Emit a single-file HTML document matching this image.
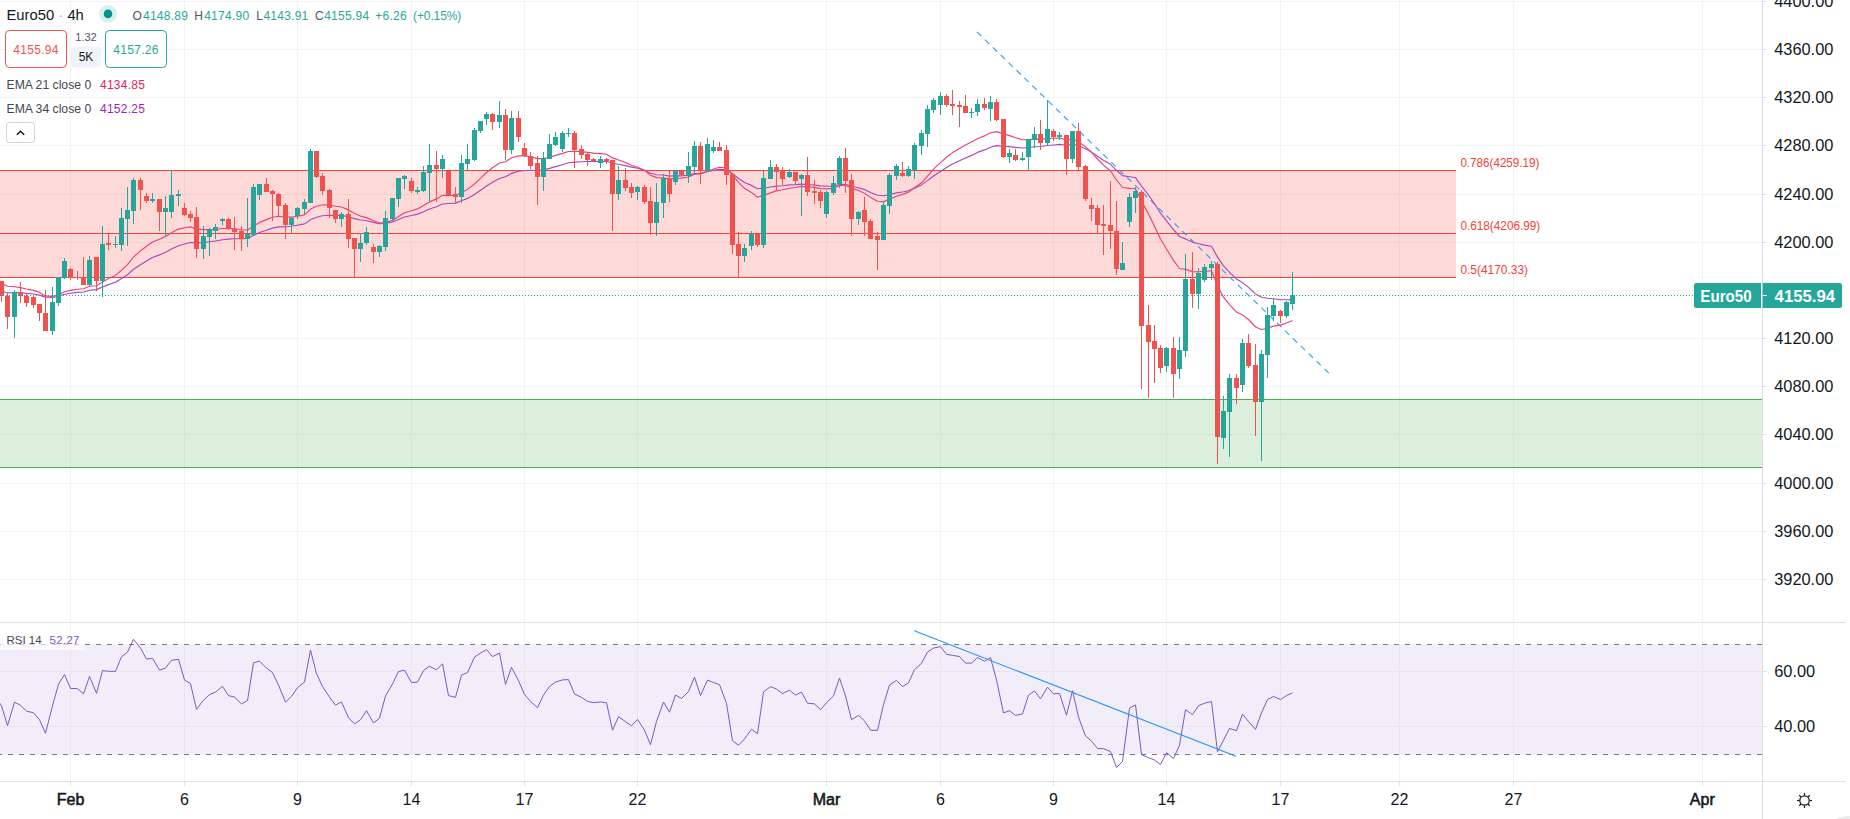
<!DOCTYPE html><html><head><meta charset="utf-8"><title>Euro50</title><style>html,body{margin:0;padding:0;background:#fff;overflow:hidden}</style></head><body><svg width="1850" height="819" viewBox="0 0 1850 819" style="display:block">
<rect width="1850" height="819" fill="#fff"/>
<g stroke="#f3f3f4" stroke-width="1" shape-rendering="crispEdges">
<line x1="70.5" y1="0" x2="70.5" y2="781"/>
<line x1="184.5" y1="0" x2="184.5" y2="781"/>
<line x1="297.5" y1="0" x2="297.5" y2="781"/>
<line x1="411.5" y1="0" x2="411.5" y2="781"/>
<line x1="524.5" y1="0" x2="524.5" y2="781"/>
<line x1="637.5" y1="0" x2="637.5" y2="781"/>
<line x1="826.5" y1="0" x2="826.5" y2="781"/>
<line x1="940.5" y1="0" x2="940.5" y2="781"/>
<line x1="1053.5" y1="0" x2="1053.5" y2="781"/>
<line x1="1166.5" y1="0" x2="1166.5" y2="781"/>
<line x1="1280.5" y1="0" x2="1280.5" y2="781"/>
<line x1="1399.5" y1="0" x2="1399.5" y2="781"/>
<line x1="1513.5" y1="0" x2="1513.5" y2="781"/>
<line x1="1702.5" y1="0" x2="1702.5" y2="781"/>
<line x1="0" y1="579.5" x2="1762.5" y2="579.5"/>
<line x1="0" y1="531.5" x2="1762.5" y2="531.5"/>
<line x1="0" y1="483.5" x2="1762.5" y2="483.5"/>
<line x1="0" y1="434.5" x2="1762.5" y2="434.5"/>
<line x1="0" y1="386.5" x2="1762.5" y2="386.5"/>
<line x1="0" y1="338.5" x2="1762.5" y2="338.5"/>
<line x1="0" y1="290.5" x2="1762.5" y2="290.5"/>
<line x1="0" y1="242.5" x2="1762.5" y2="242.5"/>
<line x1="0" y1="194.5" x2="1762.5" y2="194.5"/>
<line x1="0" y1="145.5" x2="1762.5" y2="145.5"/>
<line x1="0" y1="97.5" x2="1762.5" y2="97.5"/>
<line x1="0" y1="49.5" x2="1762.5" y2="49.5"/>
<line x1="0" y1="1.5" x2="1762.5" y2="1.5"/>
<line x1="0" y1="726.5" x2="1762.5" y2="726.5"/>
<line x1="0" y1="671.5" x2="1762.5" y2="671.5"/>
</g>
<rect x="0" y="170.5" width="1456" height="107.0" fill="#f44336" fill-opacity="0.2"/>
<g stroke="#f44336" stroke-width="1" shape-rendering="crispEdges">
<line x1="0" y1="170.5" x2="1456" y2="170.5"/>
<line x1="0" y1="233.5" x2="1456" y2="233.5"/>
<line x1="0" y1="277.5" x2="1456" y2="277.5"/>
</g>
<rect x="0" y="399.5" width="1762.5" height="68.0" fill="#4caf50" fill-opacity="0.2"/>
<g stroke="#4caf50" stroke-width="1" shape-rendering="crispEdges"><line x1="0" y1="399.5" x2="1762.5" y2="399.5"/><line x1="0" y1="467.5" x2="1762.5" y2="467.5"/></g>
<rect x="0" y="644.5" width="1762.5" height="110.0" fill="#7e57c2" fill-opacity="0.1"/>
<g stroke="#787b86" stroke-width="1" stroke-dasharray="5 6" stroke-dashoffset="3" shape-rendering="crispEdges"><line x1="0" y1="644.5" x2="1762.5" y2="644.5"/><line x1="0" y1="754.5" x2="1762.5" y2="754.5"/></g>
<line x1="977" y1="32" x2="1329.2" y2="373.5" stroke="#2196f3" stroke-width="1.15" stroke-opacity="0.9" stroke-dasharray="6 5"/>
<polyline points="-4.5,289.7 1.5,291.2 7.5,292.7 14.5,292.6 20.5,292.8 26.5,293.4 33.5,294.0 39.5,295.1 45.5,297.1 52.5,297.4 58.5,296.3 64.5,294.2 70.5,293.3 77.5,292.4 83.5,292.0 89.5,290.2 96.5,289.6 102.5,287.0 108.5,284.6 115.5,282.3 121.5,278.6 127.5,274.7 133.5,269.3 140.5,264.7 146.5,261.1 152.5,257.5 159.5,254.9 165.5,252.2 171.5,249.0 178.5,245.8 184.5,244.0 190.5,242.5 196.5,242.9 203.5,242.5 209.5,241.8 215.5,241.0 222.5,239.7 228.5,239.1 234.5,238.7 241.5,238.7 247.5,238.4 253.5,235.5 259.5,232.5 266.5,230.2 272.5,228.1 278.5,226.9 285.5,226.7 291.5,226.2 297.5,225.2 304.5,223.9 310.5,219.7 316.5,217.2 322.5,215.7 329.5,215.3 335.5,215.5 341.5,215.4 348.5,216.7 354.5,218.6 360.5,220.0 366.5,220.7 373.5,222.4 379.5,223.8 385.5,223.5 392.5,222.0 398.5,219.5 404.5,217.0 411.5,215.5 417.5,214.1 423.5,211.7 429.5,209.0 436.5,206.7 442.5,204.0 448.5,203.5 455.5,203.1 461.5,200.8 467.5,198.4 474.5,194.5 480.5,190.3 486.5,186.0 492.5,182.3 499.5,178.5 505.5,176.8 511.5,173.4 518.5,171.3 524.5,170.5 530.5,170.2 537.5,170.6 543.5,169.9 549.5,168.4 555.5,166.6 562.5,164.7 568.5,162.8 574.5,162.1 581.5,161.7 587.5,161.5 593.5,161.5 600.5,161.4 606.5,161.3 612.5,163.2 618.5,164.2 625.5,165.6 631.5,167.1 637.5,168.2 644.5,170.2 650.5,173.2 656.5,174.8 663.5,175.0 669.5,176.1 675.5,175.8 681.5,175.8 688.5,175.2 694.5,173.6 700.5,173.4 707.5,171.7 713.5,170.3 719.5,169.2 726.5,169.5 732.5,173.8 738.5,178.5 744.5,182.5 751.5,185.4 757.5,188.8 763.5,188.2 770.5,187.0 776.5,186.1 782.5,185.7 789.5,184.9 795.5,184.6 801.5,184.1 807.5,184.5 814.5,185.0 820.5,185.9 826.5,186.2 833.5,186.1 839.5,184.5 845.5,184.3 851.5,186.2 858.5,187.7 864.5,189.6 870.5,192.5 877.5,195.2 883.5,195.7 889.5,194.5 896.5,192.9 902.5,192.0 908.5,190.7 914.5,188.1 921.5,184.9 927.5,180.6 933.5,176.0 940.5,171.4 946.5,167.6 952.5,164.0 959.5,160.8 965.5,158.0 971.5,155.4 977.5,152.4 984.5,149.9 990.5,147.2 996.5,145.6 1003.5,146.2 1009.5,146.6 1015.5,147.4 1022.5,148.0 1028.5,147.5 1034.5,146.7 1040.5,146.5 1047.5,145.5 1053.5,145.0 1059.5,144.4 1066.5,145.2 1072.5,144.4 1078.5,145.7 1085.5,148.7 1091.5,152.1 1097.5,156.3 1103.5,160.3 1110.5,164.3 1116.5,170.3 1122.5,175.6 1129.5,176.8 1135.5,177.7 1141.5,186.1 1148.5,195.0 1154.5,203.8 1160.5,213.2 1166.5,220.9 1173.5,229.6 1179.5,236.5 1185.5,238.9 1192.5,242.1 1198.5,243.8 1204.5,245.1 1211.5,246.2 1217.5,257.1 1223.5,265.9 1229.5,272.4 1236.5,278.9 1242.5,282.6 1248.5,287.4 1255.5,293.9 1261.5,297.3 1267.5,298.3 1273.5,298.7 1280.5,299.7 1286.5,299.8 1292.5,299.6" fill="none" stroke="#ab47bc" stroke-width="1.15" stroke-linejoin="round"/>
<polyline points="-4.5,280.1 1.5,283.2 7.5,286.3 14.5,286.8 20.5,287.6 26.5,289.0 33.5,290.4 39.5,292.4 45.5,295.9 52.5,296.5 58.5,294.7 64.5,291.7 70.5,290.4 77.5,289.2 83.5,288.8 89.5,286.2 96.5,285.7 102.5,282.0 108.5,278.6 115.5,275.4 121.5,270.2 127.5,264.7 133.5,257.0 140.5,250.9 146.5,246.3 152.5,242.0 159.5,239.3 165.5,236.4 171.5,232.7 178.5,229.1 184.5,227.8 190.5,226.9 196.5,228.9 203.5,229.6 209.5,229.6 215.5,229.4 222.5,228.5 228.5,228.5 234.5,228.8 241.5,229.7 247.5,230.1 253.5,226.2 259.5,222.4 266.5,219.6 272.5,217.2 278.5,216.2 285.5,217.0 291.5,217.1 297.5,216.3 304.5,214.9 310.5,209.1 316.5,206.2 322.5,204.8 329.5,205.0 335.5,206.3 341.5,207.0 348.5,209.9 354.5,213.4 360.5,216.1 366.5,217.6 373.5,220.7 379.5,223.0 385.5,222.6 392.5,220.4 398.5,216.5 404.5,212.8 411.5,210.8 417.5,208.9 423.5,205.6 429.5,201.9 436.5,198.9 442.5,195.3 448.5,195.3 455.5,195.4 461.5,192.5 467.5,189.4 474.5,184.0 480.5,178.3 486.5,172.5 492.5,167.8 499.5,163.0 505.5,161.8 511.5,157.8 518.5,155.9 524.5,155.9 530.5,156.8 537.5,158.6 543.5,158.6 549.5,157.3 555.5,155.4 562.5,153.4 568.5,151.5 574.5,151.3 581.5,151.6 587.5,152.4 593.5,153.1 600.5,153.6 606.5,154.3 612.5,157.9 618.5,160.0 625.5,162.5 631.5,165.3 637.5,167.3 644.5,170.4 650.5,175.2 656.5,177.6 663.5,177.7 669.5,179.1 675.5,178.4 681.5,178.1 688.5,177.0 694.5,174.2 700.5,173.9 707.5,171.2 713.5,169.0 719.5,167.3 726.5,168.0 732.5,174.9 738.5,182.3 744.5,188.3 751.5,192.4 757.5,197.2 763.5,195.4 770.5,192.9 776.5,190.9 782.5,189.8 789.5,188.2 795.5,187.5 801.5,186.4 807.5,186.9 814.5,187.4 820.5,188.6 826.5,188.9 833.5,188.4 839.5,185.6 845.5,185.2 851.5,188.2 858.5,190.4 864.5,193.3 870.5,197.4 877.5,201.2 883.5,201.6 889.5,199.2 896.5,196.2 902.5,194.4 908.5,192.1 914.5,187.8 921.5,182.8 927.5,176.1 933.5,169.2 940.5,162.6 946.5,157.3 952.5,152.6 959.5,148.4 965.5,145.1 971.5,142.1 977.5,138.7 984.5,135.9 990.5,132.8 996.5,131.6 1003.5,133.9 1009.5,135.6 1015.5,137.8 1022.5,139.7 1028.5,139.6 1034.5,139.1 1040.5,139.4 1047.5,138.5 1053.5,138.3 1059.5,138.0 1066.5,139.9 1072.5,139.1 1078.5,141.6 1085.5,146.8 1091.5,152.4 1097.5,159.0 1103.5,165.1 1110.5,171.0 1116.5,180.0 1122.5,187.5 1129.5,188.4 1135.5,188.7 1141.5,201.1 1148.5,213.9 1154.5,226.2 1160.5,239.0 1166.5,249.0 1173.5,260.3 1179.5,268.5 1185.5,269.4 1192.5,271.6 1198.5,271.8 1204.5,271.3 1211.5,270.7 1217.5,285.8 1223.5,297.2 1229.5,304.6 1236.5,312.1 1242.5,314.9 1248.5,319.5 1255.5,327.0 1261.5,329.5 1267.5,328.2 1273.5,326.1 1280.5,325.1 1286.5,323.0 1292.5,320.5" fill="none" stroke="#ec407a" stroke-width="1.15" stroke-linejoin="round"/>
<g shape-rendering="crispEdges">
<rect x="1" y="281" width="1" height="21" fill="#ef5350"/>
<rect x="-1" y="281" width="5" height="15" fill="#ef5350"/>
<rect x="7" y="293" width="1" height="36" fill="#ef5350"/>
<rect x="5" y="296" width="5" height="21" fill="#ef5350"/>
<rect x="14" y="290" width="1" height="48" fill="#26a69a"/>
<rect x="12" y="292" width="5" height="25" fill="#26a69a"/>
<rect x="20" y="282" width="1" height="21" fill="#ef5350"/>
<rect x="18" y="292" width="5" height="4" fill="#ef5350"/>
<rect x="26" y="293" width="1" height="14" fill="#ef5350"/>
<rect x="24" y="296" width="5" height="7" fill="#ef5350"/>
<rect x="33" y="295" width="1" height="13" fill="#ef5350"/>
<rect x="31" y="297" width="5" height="8" fill="#ef5350"/>
<rect x="39" y="304" width="1" height="17" fill="#ef5350"/>
<rect x="37" y="304" width="5" height="9" fill="#ef5350"/>
<rect x="45" y="290" width="1" height="41" fill="#ef5350"/>
<rect x="43" y="313" width="5" height="18" fill="#ef5350"/>
<rect x="52" y="287" width="1" height="48" fill="#26a69a"/>
<rect x="50" y="302" width="5" height="29" fill="#26a69a"/>
<rect x="58" y="277" width="1" height="29" fill="#26a69a"/>
<rect x="56" y="277" width="5" height="26" fill="#26a69a"/>
<rect x="64" y="258" width="1" height="21" fill="#26a69a"/>
<rect x="62" y="261" width="5" height="17" fill="#26a69a"/>
<rect x="70" y="268" width="1" height="12" fill="#ef5350"/>
<rect x="68" y="269" width="5" height="9" fill="#ef5350"/>
<rect x="77" y="271" width="1" height="9" fill="#ef5350"/>
<rect x="75" y="277" width="5" height="1" fill="#ef5350"/>
<rect x="83" y="257" width="1" height="28" fill="#ef5350"/>
<rect x="81" y="277" width="5" height="8" fill="#ef5350"/>
<rect x="89" y="256" width="1" height="30" fill="#26a69a"/>
<rect x="87" y="260" width="5" height="25" fill="#26a69a"/>
<rect x="96" y="257" width="1" height="34" fill="#ef5350"/>
<rect x="94" y="257" width="5" height="24" fill="#ef5350"/>
<rect x="102" y="226" width="1" height="71" fill="#26a69a"/>
<rect x="100" y="244" width="5" height="37" fill="#26a69a"/>
<rect x="108" y="234" width="1" height="16" fill="#ef5350"/>
<rect x="106" y="243" width="5" height="2" fill="#ef5350"/>
<rect x="115" y="236" width="1" height="12" fill="#26a69a"/>
<rect x="113" y="244" width="5" height="1" fill="#26a69a"/>
<rect x="121" y="208" width="1" height="43" fill="#26a69a"/>
<rect x="119" y="218" width="5" height="27" fill="#26a69a"/>
<rect x="127" y="187" width="1" height="59" fill="#26a69a"/>
<rect x="125" y="210" width="5" height="9" fill="#26a69a"/>
<rect x="133" y="178" width="1" height="46" fill="#26a69a"/>
<rect x="131" y="180" width="5" height="31" fill="#26a69a"/>
<rect x="140" y="178" width="1" height="32" fill="#ef5350"/>
<rect x="138" y="180" width="5" height="10" fill="#ef5350"/>
<rect x="146" y="193" width="1" height="10" fill="#ef5350"/>
<rect x="144" y="196" width="5" height="5" fill="#ef5350"/>
<rect x="152" y="193" width="1" height="10" fill="#26a69a"/>
<rect x="150" y="199" width="5" height="2" fill="#26a69a"/>
<rect x="159" y="199" width="1" height="32" fill="#ef5350"/>
<rect x="157" y="199" width="5" height="13" fill="#ef5350"/>
<rect x="165" y="196" width="1" height="40" fill="#26a69a"/>
<rect x="163" y="208" width="5" height="4" fill="#26a69a"/>
<rect x="171" y="170" width="1" height="48" fill="#26a69a"/>
<rect x="169" y="195" width="5" height="17" fill="#26a69a"/>
<rect x="178" y="190" width="1" height="16" fill="#26a69a"/>
<rect x="176" y="194" width="5" height="2" fill="#26a69a"/>
<rect x="184" y="203" width="1" height="13" fill="#ef5350"/>
<rect x="182" y="208" width="5" height="7" fill="#ef5350"/>
<rect x="190" y="211" width="1" height="11" fill="#ef5350"/>
<rect x="188" y="214" width="5" height="4" fill="#ef5350"/>
<rect x="196" y="207" width="1" height="51" fill="#ef5350"/>
<rect x="194" y="217" width="5" height="32" fill="#ef5350"/>
<rect x="203" y="226" width="1" height="33" fill="#26a69a"/>
<rect x="201" y="236" width="5" height="13" fill="#26a69a"/>
<rect x="209" y="228" width="1" height="28" fill="#26a69a"/>
<rect x="207" y="230" width="5" height="7" fill="#26a69a"/>
<rect x="215" y="224" width="1" height="15" fill="#26a69a"/>
<rect x="213" y="227" width="5" height="4" fill="#26a69a"/>
<rect x="222" y="218" width="1" height="7" fill="#26a69a"/>
<rect x="220" y="219" width="5" height="2" fill="#26a69a"/>
<rect x="228" y="218" width="1" height="12" fill="#ef5350"/>
<rect x="226" y="219" width="5" height="10" fill="#ef5350"/>
<rect x="234" y="217" width="1" height="33" fill="#ef5350"/>
<rect x="232" y="229" width="5" height="3" fill="#ef5350"/>
<rect x="241" y="226" width="1" height="25" fill="#ef5350"/>
<rect x="239" y="231" width="5" height="8" fill="#ef5350"/>
<rect x="247" y="198" width="1" height="49" fill="#26a69a"/>
<rect x="245" y="234" width="5" height="5" fill="#26a69a"/>
<rect x="253" y="184" width="1" height="52" fill="#26a69a"/>
<rect x="251" y="187" width="5" height="48" fill="#26a69a"/>
<rect x="259" y="184" width="1" height="16" fill="#26a69a"/>
<rect x="257" y="184" width="5" height="11" fill="#26a69a"/>
<rect x="266" y="178" width="1" height="14" fill="#ef5350"/>
<rect x="264" y="184" width="5" height="8" fill="#ef5350"/>
<rect x="272" y="190" width="1" height="31" fill="#ef5350"/>
<rect x="270" y="191" width="5" height="3" fill="#ef5350"/>
<rect x="278" y="193" width="1" height="23" fill="#ef5350"/>
<rect x="276" y="194" width="5" height="12" fill="#ef5350"/>
<rect x="285" y="203" width="1" height="36" fill="#ef5350"/>
<rect x="283" y="205" width="5" height="20" fill="#ef5350"/>
<rect x="291" y="217" width="1" height="16" fill="#26a69a"/>
<rect x="289" y="218" width="5" height="7" fill="#26a69a"/>
<rect x="297" y="207" width="1" height="12" fill="#26a69a"/>
<rect x="295" y="208" width="5" height="8" fill="#26a69a"/>
<rect x="304" y="199" width="1" height="15" fill="#26a69a"/>
<rect x="302" y="202" width="5" height="7" fill="#26a69a"/>
<rect x="310" y="149" width="1" height="54" fill="#26a69a"/>
<rect x="308" y="151" width="5" height="52" fill="#26a69a"/>
<rect x="316" y="151" width="1" height="27" fill="#ef5350"/>
<rect x="314" y="151" width="5" height="26" fill="#ef5350"/>
<rect x="322" y="173" width="1" height="22" fill="#ef5350"/>
<rect x="320" y="176" width="5" height="15" fill="#ef5350"/>
<rect x="329" y="189" width="1" height="29" fill="#ef5350"/>
<rect x="327" y="190" width="5" height="18" fill="#ef5350"/>
<rect x="335" y="210" width="1" height="13" fill="#ef5350"/>
<rect x="333" y="210" width="5" height="9" fill="#ef5350"/>
<rect x="341" y="212" width="1" height="15" fill="#26a69a"/>
<rect x="339" y="214" width="5" height="5" fill="#26a69a"/>
<rect x="348" y="199" width="1" height="49" fill="#ef5350"/>
<rect x="346" y="214" width="5" height="25" fill="#ef5350"/>
<rect x="354" y="238" width="1" height="39" fill="#ef5350"/>
<rect x="352" y="238" width="5" height="11" fill="#ef5350"/>
<rect x="360" y="233" width="1" height="29" fill="#26a69a"/>
<rect x="358" y="243" width="5" height="6" fill="#26a69a"/>
<rect x="366" y="227" width="1" height="18" fill="#26a69a"/>
<rect x="364" y="232" width="5" height="11" fill="#26a69a"/>
<rect x="373" y="244" width="1" height="19" fill="#ef5350"/>
<rect x="371" y="247" width="5" height="5" fill="#ef5350"/>
<rect x="379" y="245" width="1" height="12" fill="#26a69a"/>
<rect x="377" y="246" width="5" height="6" fill="#26a69a"/>
<rect x="385" y="211" width="1" height="40" fill="#26a69a"/>
<rect x="383" y="218" width="5" height="29" fill="#26a69a"/>
<rect x="392" y="198" width="1" height="24" fill="#26a69a"/>
<rect x="390" y="198" width="5" height="21" fill="#26a69a"/>
<rect x="398" y="178" width="1" height="29" fill="#26a69a"/>
<rect x="396" y="178" width="5" height="21" fill="#26a69a"/>
<rect x="404" y="175" width="1" height="14" fill="#26a69a"/>
<rect x="402" y="176" width="5" height="3" fill="#26a69a"/>
<rect x="411" y="178" width="1" height="15" fill="#ef5350"/>
<rect x="409" y="181" width="5" height="10" fill="#ef5350"/>
<rect x="417" y="187" width="1" height="7" fill="#26a69a"/>
<rect x="415" y="190" width="5" height="2" fill="#26a69a"/>
<rect x="423" y="166" width="1" height="26" fill="#26a69a"/>
<rect x="421" y="172" width="5" height="19" fill="#26a69a"/>
<rect x="429" y="144" width="1" height="58" fill="#26a69a"/>
<rect x="427" y="165" width="5" height="8" fill="#26a69a"/>
<rect x="436" y="151" width="1" height="51" fill="#ef5350"/>
<rect x="434" y="165" width="5" height="4" fill="#ef5350"/>
<rect x="442" y="155" width="1" height="23" fill="#26a69a"/>
<rect x="440" y="159" width="5" height="10" fill="#26a69a"/>
<rect x="448" y="171" width="1" height="24" fill="#ef5350"/>
<rect x="446" y="171" width="5" height="24" fill="#ef5350"/>
<rect x="455" y="187" width="1" height="16" fill="#ef5350"/>
<rect x="453" y="194" width="5" height="3" fill="#ef5350"/>
<rect x="461" y="155" width="1" height="48" fill="#26a69a"/>
<rect x="459" y="163" width="5" height="34" fill="#26a69a"/>
<rect x="467" y="144" width="1" height="26" fill="#26a69a"/>
<rect x="465" y="159" width="5" height="5" fill="#26a69a"/>
<rect x="474" y="128" width="1" height="33" fill="#26a69a"/>
<rect x="472" y="130" width="5" height="30" fill="#26a69a"/>
<rect x="480" y="121" width="1" height="12" fill="#26a69a"/>
<rect x="478" y="121" width="5" height="10" fill="#26a69a"/>
<rect x="486" y="112" width="1" height="13" fill="#26a69a"/>
<rect x="484" y="114" width="5" height="5" fill="#26a69a"/>
<rect x="492" y="113" width="1" height="17" fill="#ef5350"/>
<rect x="490" y="114" width="5" height="8" fill="#ef5350"/>
<rect x="499" y="101" width="1" height="27" fill="#26a69a"/>
<rect x="497" y="115" width="5" height="7" fill="#26a69a"/>
<rect x="505" y="109" width="1" height="51" fill="#ef5350"/>
<rect x="503" y="115" width="5" height="35" fill="#ef5350"/>
<rect x="511" y="111" width="1" height="43" fill="#26a69a"/>
<rect x="509" y="118" width="5" height="32" fill="#26a69a"/>
<rect x="518" y="111" width="1" height="31" fill="#ef5350"/>
<rect x="516" y="118" width="5" height="19" fill="#ef5350"/>
<rect x="524" y="143" width="1" height="14" fill="#ef5350"/>
<rect x="522" y="148" width="5" height="8" fill="#ef5350"/>
<rect x="530" y="152" width="1" height="17" fill="#ef5350"/>
<rect x="528" y="156" width="5" height="10" fill="#ef5350"/>
<rect x="537" y="156" width="1" height="49" fill="#ef5350"/>
<rect x="535" y="163" width="5" height="14" fill="#ef5350"/>
<rect x="543" y="152" width="1" height="39" fill="#26a69a"/>
<rect x="541" y="158" width="5" height="19" fill="#26a69a"/>
<rect x="549" y="134" width="1" height="25" fill="#26a69a"/>
<rect x="547" y="144" width="5" height="15" fill="#26a69a"/>
<rect x="555" y="132" width="1" height="14" fill="#26a69a"/>
<rect x="553" y="137" width="5" height="8" fill="#26a69a"/>
<rect x="562" y="131" width="1" height="21" fill="#26a69a"/>
<rect x="560" y="133" width="5" height="16" fill="#26a69a"/>
<rect x="568" y="128" width="1" height="9" fill="#26a69a"/>
<rect x="566" y="133" width="5" height="1" fill="#26a69a"/>
<rect x="574" y="131" width="1" height="37" fill="#ef5350"/>
<rect x="572" y="133" width="5" height="17" fill="#ef5350"/>
<rect x="581" y="145" width="1" height="14" fill="#ef5350"/>
<rect x="579" y="149" width="5" height="6" fill="#ef5350"/>
<rect x="587" y="153" width="1" height="13" fill="#ef5350"/>
<rect x="585" y="154" width="5" height="6" fill="#ef5350"/>
<rect x="593" y="158" width="1" height="4" fill="#ef5350"/>
<rect x="591" y="159" width="5" height="2" fill="#ef5350"/>
<rect x="600" y="156" width="1" height="12" fill="#26a69a"/>
<rect x="598" y="159" width="5" height="4" fill="#26a69a"/>
<rect x="606" y="158" width="1" height="6" fill="#ef5350"/>
<rect x="604" y="159" width="5" height="2" fill="#ef5350"/>
<rect x="612" y="160" width="1" height="71" fill="#ef5350"/>
<rect x="610" y="160" width="5" height="34" fill="#ef5350"/>
<rect x="618" y="166" width="1" height="34" fill="#26a69a"/>
<rect x="616" y="180" width="5" height="14" fill="#26a69a"/>
<rect x="625" y="168" width="1" height="23" fill="#ef5350"/>
<rect x="623" y="180" width="5" height="8" fill="#ef5350"/>
<rect x="631" y="183" width="1" height="15" fill="#ef5350"/>
<rect x="629" y="187" width="5" height="6" fill="#ef5350"/>
<rect x="637" y="186" width="1" height="14" fill="#26a69a"/>
<rect x="635" y="187" width="5" height="5" fill="#26a69a"/>
<rect x="644" y="185" width="1" height="19" fill="#ef5350"/>
<rect x="642" y="187" width="5" height="15" fill="#ef5350"/>
<rect x="650" y="187" width="1" height="48" fill="#ef5350"/>
<rect x="648" y="201" width="5" height="22" fill="#ef5350"/>
<rect x="656" y="183" width="1" height="53" fill="#26a69a"/>
<rect x="654" y="202" width="5" height="21" fill="#26a69a"/>
<rect x="663" y="174" width="1" height="44" fill="#26a69a"/>
<rect x="661" y="178" width="5" height="25" fill="#26a69a"/>
<rect x="669" y="171" width="1" height="31" fill="#ef5350"/>
<rect x="667" y="178" width="5" height="16" fill="#ef5350"/>
<rect x="675" y="170" width="1" height="15" fill="#26a69a"/>
<rect x="673" y="171" width="5" height="11" fill="#26a69a"/>
<rect x="681" y="171" width="1" height="4" fill="#ef5350"/>
<rect x="679" y="171" width="5" height="4" fill="#ef5350"/>
<rect x="688" y="152" width="1" height="31" fill="#26a69a"/>
<rect x="686" y="166" width="5" height="10" fill="#26a69a"/>
<rect x="694" y="141" width="1" height="34" fill="#26a69a"/>
<rect x="692" y="146" width="5" height="21" fill="#26a69a"/>
<rect x="700" y="142" width="1" height="42" fill="#ef5350"/>
<rect x="698" y="146" width="5" height="25" fill="#ef5350"/>
<rect x="707" y="138" width="1" height="33" fill="#26a69a"/>
<rect x="705" y="144" width="5" height="27" fill="#26a69a"/>
<rect x="713" y="140" width="1" height="13" fill="#26a69a"/>
<rect x="711" y="147" width="5" height="4" fill="#26a69a"/>
<rect x="719" y="142" width="1" height="9" fill="#ef5350"/>
<rect x="717" y="147" width="5" height="4" fill="#ef5350"/>
<rect x="726" y="145" width="1" height="40" fill="#ef5350"/>
<rect x="724" y="150" width="5" height="25" fill="#ef5350"/>
<rect x="732" y="174" width="1" height="80" fill="#ef5350"/>
<rect x="730" y="174" width="5" height="71" fill="#ef5350"/>
<rect x="738" y="232" width="1" height="45" fill="#ef5350"/>
<rect x="736" y="244" width="5" height="12" fill="#ef5350"/>
<rect x="744" y="244" width="1" height="18" fill="#26a69a"/>
<rect x="742" y="248" width="5" height="8" fill="#26a69a"/>
<rect x="751" y="231" width="1" height="19" fill="#26a69a"/>
<rect x="749" y="234" width="5" height="12" fill="#26a69a"/>
<rect x="757" y="234" width="1" height="13" fill="#ef5350"/>
<rect x="755" y="234" width="5" height="11" fill="#ef5350"/>
<rect x="763" y="171" width="1" height="77" fill="#26a69a"/>
<rect x="761" y="178" width="5" height="67" fill="#26a69a"/>
<rect x="770" y="160" width="1" height="19" fill="#26a69a"/>
<rect x="768" y="167" width="5" height="12" fill="#26a69a"/>
<rect x="776" y="164" width="1" height="26" fill="#ef5350"/>
<rect x="774" y="167" width="5" height="5" fill="#ef5350"/>
<rect x="782" y="167" width="1" height="18" fill="#ef5350"/>
<rect x="780" y="171" width="5" height="8" fill="#ef5350"/>
<rect x="789" y="169" width="1" height="9" fill="#26a69a"/>
<rect x="787" y="172" width="5" height="5" fill="#26a69a"/>
<rect x="795" y="172" width="1" height="13" fill="#ef5350"/>
<rect x="793" y="172" width="5" height="9" fill="#ef5350"/>
<rect x="801" y="174" width="1" height="42" fill="#26a69a"/>
<rect x="799" y="175" width="5" height="4" fill="#26a69a"/>
<rect x="807" y="157" width="1" height="39" fill="#ef5350"/>
<rect x="805" y="175" width="5" height="17" fill="#ef5350"/>
<rect x="814" y="180" width="1" height="24" fill="#ef5350"/>
<rect x="812" y="191" width="5" height="2" fill="#ef5350"/>
<rect x="820" y="190" width="1" height="18" fill="#ef5350"/>
<rect x="818" y="192" width="5" height="9" fill="#ef5350"/>
<rect x="826" y="191" width="1" height="27" fill="#26a69a"/>
<rect x="824" y="192" width="5" height="22" fill="#26a69a"/>
<rect x="833" y="176" width="1" height="19" fill="#26a69a"/>
<rect x="831" y="183" width="5" height="10" fill="#26a69a"/>
<rect x="839" y="156" width="1" height="32" fill="#26a69a"/>
<rect x="837" y="158" width="5" height="26" fill="#26a69a"/>
<rect x="845" y="148" width="1" height="45" fill="#ef5350"/>
<rect x="843" y="158" width="5" height="23" fill="#ef5350"/>
<rect x="851" y="174" width="1" height="62" fill="#ef5350"/>
<rect x="849" y="180" width="5" height="39" fill="#ef5350"/>
<rect x="858" y="211" width="1" height="14" fill="#26a69a"/>
<rect x="856" y="212" width="5" height="7" fill="#26a69a"/>
<rect x="864" y="197" width="1" height="39" fill="#ef5350"/>
<rect x="862" y="210" width="5" height="12" fill="#ef5350"/>
<rect x="870" y="219" width="1" height="20" fill="#ef5350"/>
<rect x="868" y="221" width="5" height="18" fill="#ef5350"/>
<rect x="877" y="232" width="1" height="38" fill="#ef5350"/>
<rect x="875" y="236" width="5" height="4" fill="#ef5350"/>
<rect x="883" y="201" width="1" height="39" fill="#26a69a"/>
<rect x="881" y="205" width="5" height="35" fill="#26a69a"/>
<rect x="889" y="173" width="1" height="41" fill="#26a69a"/>
<rect x="887" y="175" width="5" height="31" fill="#26a69a"/>
<rect x="896" y="164" width="1" height="16" fill="#26a69a"/>
<rect x="894" y="166" width="5" height="10" fill="#26a69a"/>
<rect x="902" y="162" width="1" height="15" fill="#ef5350"/>
<rect x="900" y="173" width="5" height="3" fill="#ef5350"/>
<rect x="908" y="166" width="1" height="11" fill="#26a69a"/>
<rect x="906" y="169" width="5" height="7" fill="#26a69a"/>
<rect x="914" y="143" width="1" height="36" fill="#26a69a"/>
<rect x="912" y="145" width="5" height="25" fill="#26a69a"/>
<rect x="921" y="130" width="1" height="25" fill="#26a69a"/>
<rect x="919" y="133" width="5" height="13" fill="#26a69a"/>
<rect x="927" y="105" width="1" height="42" fill="#26a69a"/>
<rect x="925" y="109" width="5" height="25" fill="#26a69a"/>
<rect x="933" y="98" width="1" height="15" fill="#26a69a"/>
<rect x="931" y="100" width="5" height="10" fill="#26a69a"/>
<rect x="940" y="92" width="1" height="23" fill="#26a69a"/>
<rect x="938" y="96" width="5" height="9" fill="#26a69a"/>
<rect x="946" y="94" width="1" height="13" fill="#ef5350"/>
<rect x="944" y="96" width="5" height="9" fill="#ef5350"/>
<rect x="952" y="90" width="1" height="25" fill="#ef5350"/>
<rect x="950" y="104" width="5" height="2" fill="#ef5350"/>
<rect x="959" y="101" width="1" height="26" fill="#ef5350"/>
<rect x="957" y="105" width="5" height="2" fill="#ef5350"/>
<rect x="965" y="95" width="1" height="18" fill="#ef5350"/>
<rect x="963" y="106" width="5" height="7" fill="#ef5350"/>
<rect x="971" y="108" width="1" height="10" fill="#26a69a"/>
<rect x="969" y="112" width="5" height="1" fill="#26a69a"/>
<rect x="977" y="99" width="1" height="17" fill="#26a69a"/>
<rect x="975" y="104" width="5" height="8" fill="#26a69a"/>
<rect x="984" y="98" width="1" height="12" fill="#ef5350"/>
<rect x="982" y="104" width="5" height="4" fill="#ef5350"/>
<rect x="990" y="96" width="1" height="25" fill="#26a69a"/>
<rect x="988" y="102" width="5" height="7" fill="#26a69a"/>
<rect x="996" y="99" width="1" height="22" fill="#ef5350"/>
<rect x="994" y="102" width="5" height="18" fill="#ef5350"/>
<rect x="1003" y="119" width="1" height="39" fill="#ef5350"/>
<rect x="1001" y="119" width="5" height="38" fill="#ef5350"/>
<rect x="1009" y="149" width="1" height="14" fill="#26a69a"/>
<rect x="1007" y="153" width="5" height="4" fill="#26a69a"/>
<rect x="1015" y="149" width="1" height="12" fill="#ef5350"/>
<rect x="1013" y="155" width="5" height="5" fill="#ef5350"/>
<rect x="1022" y="152" width="1" height="9" fill="#26a69a"/>
<rect x="1020" y="158" width="5" height="2" fill="#26a69a"/>
<rect x="1028" y="139" width="1" height="31" fill="#26a69a"/>
<rect x="1026" y="139" width="5" height="18" fill="#26a69a"/>
<rect x="1034" y="127" width="1" height="21" fill="#26a69a"/>
<rect x="1032" y="134" width="5" height="6" fill="#26a69a"/>
<rect x="1040" y="120" width="1" height="30" fill="#ef5350"/>
<rect x="1038" y="134" width="5" height="9" fill="#ef5350"/>
<rect x="1047" y="100" width="1" height="45" fill="#26a69a"/>
<rect x="1045" y="129" width="5" height="14" fill="#26a69a"/>
<rect x="1053" y="129" width="1" height="12" fill="#ef5350"/>
<rect x="1051" y="131" width="5" height="6" fill="#ef5350"/>
<rect x="1059" y="132" width="1" height="8" fill="#26a69a"/>
<rect x="1057" y="135" width="5" height="2" fill="#26a69a"/>
<rect x="1066" y="135" width="1" height="40" fill="#ef5350"/>
<rect x="1064" y="135" width="5" height="24" fill="#ef5350"/>
<rect x="1072" y="131" width="1" height="32" fill="#26a69a"/>
<rect x="1070" y="131" width="5" height="28" fill="#26a69a"/>
<rect x="1078" y="123" width="1" height="47" fill="#ef5350"/>
<rect x="1076" y="131" width="5" height="36" fill="#ef5350"/>
<rect x="1085" y="165" width="1" height="36" fill="#ef5350"/>
<rect x="1083" y="166" width="5" height="33" fill="#ef5350"/>
<rect x="1091" y="198" width="1" height="23" fill="#ef5350"/>
<rect x="1089" y="205" width="5" height="4" fill="#ef5350"/>
<rect x="1097" y="205" width="1" height="28" fill="#ef5350"/>
<rect x="1095" y="208" width="5" height="17" fill="#ef5350"/>
<rect x="1103" y="205" width="1" height="50" fill="#ef5350"/>
<rect x="1101" y="224" width="5" height="2" fill="#ef5350"/>
<rect x="1110" y="181" width="1" height="68" fill="#ef5350"/>
<rect x="1108" y="225" width="5" height="6" fill="#ef5350"/>
<rect x="1116" y="201" width="1" height="74" fill="#ef5350"/>
<rect x="1114" y="231" width="5" height="38" fill="#ef5350"/>
<rect x="1122" y="242" width="1" height="28" fill="#26a69a"/>
<rect x="1120" y="263" width="5" height="7" fill="#26a69a"/>
<rect x="1129" y="193" width="1" height="34" fill="#26a69a"/>
<rect x="1127" y="197" width="5" height="25" fill="#26a69a"/>
<rect x="1135" y="187" width="1" height="26" fill="#26a69a"/>
<rect x="1133" y="191" width="5" height="7" fill="#26a69a"/>
<rect x="1141" y="190" width="1" height="199" fill="#ef5350"/>
<rect x="1139" y="192" width="5" height="134" fill="#ef5350"/>
<rect x="1148" y="305" width="1" height="93" fill="#ef5350"/>
<rect x="1146" y="325" width="5" height="17" fill="#ef5350"/>
<rect x="1154" y="325" width="1" height="58" fill="#ef5350"/>
<rect x="1152" y="341" width="5" height="8" fill="#ef5350"/>
<rect x="1160" y="345" width="1" height="28" fill="#ef5350"/>
<rect x="1158" y="348" width="5" height="20" fill="#ef5350"/>
<rect x="1166" y="347" width="1" height="25" fill="#26a69a"/>
<rect x="1164" y="348" width="5" height="18" fill="#26a69a"/>
<rect x="1173" y="337" width="1" height="61" fill="#ef5350"/>
<rect x="1171" y="348" width="5" height="26" fill="#ef5350"/>
<rect x="1179" y="337" width="1" height="42" fill="#26a69a"/>
<rect x="1177" y="350" width="5" height="19" fill="#26a69a"/>
<rect x="1185" y="254" width="1" height="103" fill="#26a69a"/>
<rect x="1183" y="279" width="5" height="72" fill="#26a69a"/>
<rect x="1192" y="252" width="1" height="56" fill="#ef5350"/>
<rect x="1190" y="279" width="5" height="15" fill="#ef5350"/>
<rect x="1198" y="268" width="1" height="41" fill="#26a69a"/>
<rect x="1196" y="273" width="5" height="21" fill="#26a69a"/>
<rect x="1204" y="264" width="1" height="18" fill="#26a69a"/>
<rect x="1202" y="267" width="5" height="13" fill="#26a69a"/>
<rect x="1211" y="261" width="1" height="19" fill="#26a69a"/>
<rect x="1209" y="264" width="5" height="4" fill="#26a69a"/>
<rect x="1217" y="262" width="1" height="202" fill="#ef5350"/>
<rect x="1215" y="264" width="5" height="173" fill="#ef5350"/>
<rect x="1223" y="396" width="1" height="53" fill="#26a69a"/>
<rect x="1221" y="411" width="5" height="27" fill="#26a69a"/>
<rect x="1229" y="374" width="1" height="83" fill="#26a69a"/>
<rect x="1227" y="378" width="5" height="34" fill="#26a69a"/>
<rect x="1236" y="374" width="1" height="30" fill="#ef5350"/>
<rect x="1234" y="378" width="5" height="10" fill="#ef5350"/>
<rect x="1242" y="339" width="1" height="53" fill="#26a69a"/>
<rect x="1240" y="343" width="5" height="42" fill="#26a69a"/>
<rect x="1248" y="334" width="1" height="34" fill="#ef5350"/>
<rect x="1246" y="343" width="5" height="23" fill="#ef5350"/>
<rect x="1255" y="344" width="1" height="92" fill="#ef5350"/>
<rect x="1253" y="365" width="5" height="37" fill="#ef5350"/>
<rect x="1261" y="350" width="1" height="111" fill="#26a69a"/>
<rect x="1259" y="354" width="5" height="48" fill="#26a69a"/>
<rect x="1267" y="307" width="1" height="71" fill="#26a69a"/>
<rect x="1265" y="315" width="5" height="40" fill="#26a69a"/>
<rect x="1273" y="299" width="1" height="22" fill="#26a69a"/>
<rect x="1271" y="305" width="5" height="11" fill="#26a69a"/>
<rect x="1280" y="310" width="1" height="13" fill="#ef5350"/>
<rect x="1278" y="311" width="5" height="5" fill="#ef5350"/>
<rect x="1286" y="301" width="1" height="17" fill="#26a69a"/>
<rect x="1284" y="302" width="5" height="14" fill="#26a69a"/>
<rect x="1292" y="272" width="1" height="38" fill="#26a69a"/>
<rect x="1290" y="295" width="5" height="9" fill="#26a69a"/>
</g>
<line x1="0" y1="295.5" x2="1694" y2="295.5" stroke="#26a69a" stroke-width="1" stroke-dasharray="1 2" shape-rendering="crispEdges"/>
<polyline points="-4.5,696.9 1.5,705.7 7.5,725.7 14.5,702.1 20.5,705.2 26.5,711.2 33.5,712.7 39.5,719.7 45.5,733.2 52.5,705.7 58.5,684.1 64.5,674.6 70.5,688.4 77.5,688.6 83.5,693.9 89.5,676.4 96.5,693.4 102.5,670.6 108.5,671.3 115.5,671.3 121.5,656.8 127.5,652.1 133.5,639.3 140.5,648.1 146.5,659.1 152.5,658.3 159.5,670.1 165.5,668.1 171.5,660.3 178.5,659.3 184.5,680.1 190.5,683.6 196.5,709.4 203.5,700.1 209.5,694.6 215.5,692.1 222.5,686.4 228.5,695.6 234.5,697.1 241.5,703.9 247.5,700.6 253.5,662.8 259.5,661.1 266.5,668.1 272.5,672.6 278.5,685.1 285.5,702.1 291.5,696.4 297.5,687.6 304.5,682.1 310.5,650.1 316.5,673.6 322.5,686.4 329.5,697.1 335.5,705.2 341.5,701.9 348.5,717.7 354.5,723.9 360.5,719.7 366.5,710.7 373.5,722.9 379.5,718.2 385.5,695.9 392.5,683.9 398.5,671.6 404.5,670.1 411.5,682.6 417.5,682.1 423.5,670.6 429.5,666.3 436.5,669.8 442.5,663.8 448.5,695.6 455.5,697.4 461.5,675.1 467.5,672.6 474.5,657.1 480.5,653.1 486.5,649.6 492.5,656.6 499.5,653.1 505.5,684.4 511.5,667.3 518.5,680.6 524.5,694.4 530.5,701.4 537.5,707.7 543.5,695.1 549.5,686.4 555.5,682.1 562.5,679.9 568.5,679.6 574.5,693.9 581.5,697.4 587.5,701.4 593.5,702.7 600.5,701.9 606.5,702.7 612.5,730.2 618.5,716.7 625.5,721.7 631.5,725.7 637.5,719.4 644.5,730.2 650.5,744.7 656.5,721.4 663.5,702.1 669.5,712.2 675.5,695.1 681.5,698.4 688.5,691.6 694.5,677.1 700.5,695.6 707.5,680.1 713.5,682.6 719.5,684.6 726.5,703.4 732.5,740.7 738.5,745.2 744.5,739.0 751.5,729.2 757.5,733.7 763.5,691.9 770.5,686.6 776.5,689.1 782.5,693.6 789.5,690.1 795.5,695.1 801.5,692.1 807.5,703.2 814.5,703.9 820.5,709.7 826.5,702.7 833.5,695.9 839.5,678.1 845.5,695.9 851.5,719.7 858.5,715.4 864.5,720.9 870.5,730.2 877.5,730.4 883.5,704.7 889.5,684.9 896.5,680.4 902.5,686.6 908.5,682.9 914.5,669.6 921.5,663.3 927.5,652.1 933.5,648.1 940.5,646.6 946.5,654.3 952.5,655.3 959.5,656.6 965.5,663.1 971.5,663.1 977.5,657.6 984.5,661.3 990.5,657.6 996.5,680.1 1003.5,712.9 1009.5,710.7 1015.5,715.4 1022.5,713.9 1028.5,695.1 1034.5,690.9 1040.5,698.9 1047.5,687.1 1053.5,693.9 1059.5,693.4 1066.5,715.2 1072.5,690.6 1078.5,717.2 1085.5,736.0 1091.5,741.0 1097.5,748.5 1103.5,748.7 1110.5,751.5 1116.5,767.5 1122.5,761.5 1129.5,708.2 1135.5,704.9 1141.5,754.5 1148.5,757.7 1154.5,760.0 1160.5,764.5 1166.5,752.7 1173.5,758.5 1179.5,745.2 1185.5,709.7 1192.5,714.7 1198.5,705.7 1204.5,703.2 1211.5,701.6 1217.5,751.7 1223.5,740.2 1229.5,728.4 1236.5,730.7 1242.5,714.2 1248.5,721.4 1255.5,729.4 1261.5,712.7 1267.5,699.6 1273.5,696.4 1280.5,699.6 1286.5,695.6 1292.5,692.9" fill="none" stroke="#7e57c2" stroke-width="1" stroke-linejoin="round"/>
<line x1="914.3" y1="630.8" x2="1236" y2="756.2" stroke="#2196f3" stroke-width="1.1"/>
<g stroke="#dfe0e4" stroke-width="1" shape-rendering="crispEdges">
<line x1="0" y1="622.5" x2="1846" y2="622.5"/>
<line x1="0" y1="781.5" x2="1846" y2="781.5"/>
<line x1="1762.5" y1="0" x2="1762.5" y2="819"/>
<line x1="1762.5" y1="579.5" x2="1767.0" y2="579.5"/>
<line x1="1762.5" y1="531.5" x2="1767.0" y2="531.5"/>
<line x1="1762.5" y1="483.5" x2="1767.0" y2="483.5"/>
<line x1="1762.5" y1="434.5" x2="1767.0" y2="434.5"/>
<line x1="1762.5" y1="386.5" x2="1767.0" y2="386.5"/>
<line x1="1762.5" y1="338.5" x2="1767.0" y2="338.5"/>
<line x1="1762.5" y1="290.5" x2="1767.0" y2="290.5"/>
<line x1="1762.5" y1="242.5" x2="1767.0" y2="242.5"/>
<line x1="1762.5" y1="194.5" x2="1767.0" y2="194.5"/>
<line x1="1762.5" y1="145.5" x2="1767.0" y2="145.5"/>
<line x1="1762.5" y1="97.5" x2="1767.0" y2="97.5"/>
<line x1="1762.5" y1="49.5" x2="1767.0" y2="49.5"/>
<line x1="1762.5" y1="1.5" x2="1767.0" y2="1.5"/>
<line x1="1762.5" y1="726.5" x2="1767.0" y2="726.5"/>
<line x1="1762.5" y1="671.5" x2="1767.0" y2="671.5"/>
<line x1="70.5" y1="781.5" x2="70.5" y2="786"/>
<line x1="184.5" y1="781.5" x2="184.5" y2="786"/>
<line x1="297.5" y1="781.5" x2="297.5" y2="786"/>
<line x1="411.5" y1="781.5" x2="411.5" y2="786"/>
<line x1="524.5" y1="781.5" x2="524.5" y2="786"/>
<line x1="637.5" y1="781.5" x2="637.5" y2="786"/>
<line x1="826.5" y1="781.5" x2="826.5" y2="786"/>
<line x1="940.5" y1="781.5" x2="940.5" y2="786"/>
<line x1="1053.5" y1="781.5" x2="1053.5" y2="786"/>
<line x1="1166.5" y1="781.5" x2="1166.5" y2="786"/>
<line x1="1280.5" y1="781.5" x2="1280.5" y2="786"/>
<line x1="1399.5" y1="781.5" x2="1399.5" y2="786"/>
<line x1="1513.5" y1="781.5" x2="1513.5" y2="786"/>
<line x1="1702.5" y1="781.5" x2="1702.5" y2="786"/>
</g>
<g font-family="Liberation Sans, sans-serif" font-size="16.5" fill="#131722">
<text x="1774.2" y="585.3" textLength="59.2" lengthAdjust="spacingAndGlyphs">3920.00</text>
<text x="1774.2" y="537.3" textLength="59.2" lengthAdjust="spacingAndGlyphs">3960.00</text>
<text x="1774.2" y="489.3" textLength="59.2" lengthAdjust="spacingAndGlyphs">4000.00</text>
<text x="1774.2" y="440.3" textLength="59.2" lengthAdjust="spacingAndGlyphs">4040.00</text>
<text x="1774.2" y="392.3" textLength="59.2" lengthAdjust="spacingAndGlyphs">4080.00</text>
<text x="1774.2" y="344.3" textLength="59.2" lengthAdjust="spacingAndGlyphs">4120.00</text>
<text x="1774.2" y="296.3" textLength="59.2" lengthAdjust="spacingAndGlyphs">4160.00</text>
<text x="1774.2" y="248.3" textLength="59.2" lengthAdjust="spacingAndGlyphs">4200.00</text>
<text x="1774.2" y="200.3" textLength="59.2" lengthAdjust="spacingAndGlyphs">4240.00</text>
<text x="1774.2" y="151.3" textLength="59.2" lengthAdjust="spacingAndGlyphs">4280.00</text>
<text x="1774.2" y="103.3" textLength="59.2" lengthAdjust="spacingAndGlyphs">4320.00</text>
<text x="1774.2" y="55.3" textLength="59.2" lengthAdjust="spacingAndGlyphs">4360.00</text>
<text x="1774.2" y="7.3" textLength="59.2" lengthAdjust="spacingAndGlyphs">4400.00</text>
<text x="1774.2" y="732.3" textLength="41" lengthAdjust="spacingAndGlyphs">40.00</text>
<text x="1774.2" y="677.3" textLength="41" lengthAdjust="spacingAndGlyphs">60.00</text>
</g>
<g font-family="Liberation Sans, sans-serif" font-size="16" fill="#131722" text-anchor="middle">
<text x="70.5" y="805" stroke="#131722" stroke-width="0.55">Feb</text>
<text x="184.5" y="805">6</text>
<text x="297.5" y="805">9</text>
<text x="411.5" y="805">14</text>
<text x="524.5" y="805">17</text>
<text x="637.5" y="805">22</text>
<text x="826.5" y="805" stroke="#131722" stroke-width="0.55">Mar</text>
<text x="940.5" y="805">6</text>
<text x="1053.5" y="805">9</text>
<text x="1166.5" y="805">14</text>
<text x="1280.5" y="805">17</text>
<text x="1399.5" y="805">22</text>
<text x="1513.5" y="805">27</text>
<text x="1702.3" y="805" stroke="#131722" stroke-width="0.55">Apr</text>
</g>
<rect x="1694" y="283" width="148" height="25" rx="2.5" fill="#26a69a"/>
<rect x="1761" y="283" width="1.5" height="25" fill="#fff"/>
<rect x="1763" y="295" width="4" height="1" fill="#fff"/>
<g font-family="Liberation Sans, sans-serif" font-size="16" font-weight="bold" fill="#fff">
<text x="1700.3" y="301.8" textLength="51.4" lengthAdjust="spacingAndGlyphs">Euro50</text>
<text x="1774.6" y="301.8" textLength="60.4" lengthAdjust="spacingAndGlyphs">4155.94</text>
</g>
<g font-family="Liberation Sans, sans-serif" font-size="12.8" fill="#f44336">
<text x="1460.4" y="167.1" textLength="79" lengthAdjust="spacingAndGlyphs">0.786(4259.19)</text>
<text x="1460.4" y="229.9" textLength="79.9" lengthAdjust="spacingAndGlyphs">0.618(4206.99)</text>
<text x="1460.4" y="273.5" textLength="67.6" lengthAdjust="spacingAndGlyphs">0.5(4170.33)</text>
</g>
<g font-family="Liberation Sans, sans-serif">
<text x="6.5" y="19.6" font-size="14.8" fill="#131722">Euro50 <tspan fill="#b2b5be">·</tspan> 4h</text>
<circle cx="108" cy="13.9" r="8.9" fill="#26a69a" fill-opacity="0.18"/><circle cx="108" cy="13.9" r="4.3" fill="#009688"/>
<g font-size="12" letter-spacing="0.25">
<text x="132.6" y="19.5" fill="#50535e">O</text>
<text x="143" y="19.5" fill="#26a69a">4148.89</text>
<text x="194.2" y="19.5" fill="#50535e">H</text>
<text x="204.2" y="19.5" fill="#26a69a">4174.90</text>
<text x="256.3" y="19.5" fill="#50535e">L</text>
<text x="263.4" y="19.5" fill="#26a69a">4143.91</text>
<text x="315" y="19.5" fill="#50535e">C</text>
<text x="324.2" y="19.5" fill="#26a69a">4155.94</text>
<text x="375.3" y="19.5" fill="#26a69a">+6.26</text>
<text x="413" y="19.5" fill="#26a69a" letter-spacing="-0.1">(+0.15%)</text>
</g>
<rect x="5.5" y="30.5" width="61" height="37" rx="4" fill="#fff" stroke="#ef5350"/>
<text x="36" y="54" font-size="12" fill="#ef5350" text-anchor="middle" letter-spacing="0.3">4155.94</text>
<text x="86" y="41" font-size="11" fill="#50535e" text-anchor="middle">1.32</text>
<rect x="71" y="46.5" width="30" height="21" rx="4" fill="#f0f3fa"/>
<text x="86" y="60.8" font-size="12" fill="#131722" text-anchor="middle">5K</text>
<rect x="105.5" y="30.5" width="61" height="37" rx="4" fill="#fff" stroke="#26a69a"/>
<text x="136" y="54" font-size="12" fill="#26a69a" text-anchor="middle" letter-spacing="0.3">4157.26</text>
<text x="6.5" y="89" font-size="12.2" fill="#434651">EMA 21 close 0</text>
<text x="100" y="89" font-size="12" fill="#e91e63" letter-spacing="0.25">4134.85</text>
<text x="6.5" y="112.7" font-size="12.2" fill="#434651">EMA 34 close 0</text>
<text x="100" y="112.7" font-size="12" fill="#9c27b0" letter-spacing="0.25">4152.25</text>
<rect x="6.5" y="122.5" width="28" height="20" rx="3" fill="#fff" stroke="#d1d4dc"/>
<path d="M16.8 134.8 L20.5 131.2 L24.2 134.8" fill="none" stroke="#131722" stroke-width="1.5"/>
<rect x="0" y="634" width="85" height="16" fill="#fff" fill-opacity="0.6"/>
<text x="6.5" y="644" font-size="11.5" fill="#434651">RSI 14</text>
<text x="49.5" y="644" font-size="11.5" fill="#7e57c2" letter-spacing="0.3">52.27</text>
</g>
<g transform="translate(1804.5,800.5)" stroke="#131722" fill="none" stroke-width="1.2"><circle r="4.7"/>
<line x1="5.00" y1="0.00" x2="7.50" y2="0.00"/>
<line x1="3.54" y1="3.54" x2="5.30" y2="5.30"/>
<line x1="0.00" y1="5.00" x2="0.00" y2="7.50"/>
<line x1="-3.54" y1="3.54" x2="-5.30" y2="5.30"/>
<line x1="-5.00" y1="0.00" x2="-7.50" y2="0.00"/>
<line x1="-3.54" y1="-3.54" x2="-5.30" y2="-5.30"/>
<line x1="-0.00" y1="-5.00" x2="-0.00" y2="-7.50"/>
<line x1="3.54" y1="-3.54" x2="5.30" y2="-5.30"/>
</g>
<ellipse cx="1850" cy="821" rx="15" ry="5" fill="#ececec"/>
</svg></body></html>
